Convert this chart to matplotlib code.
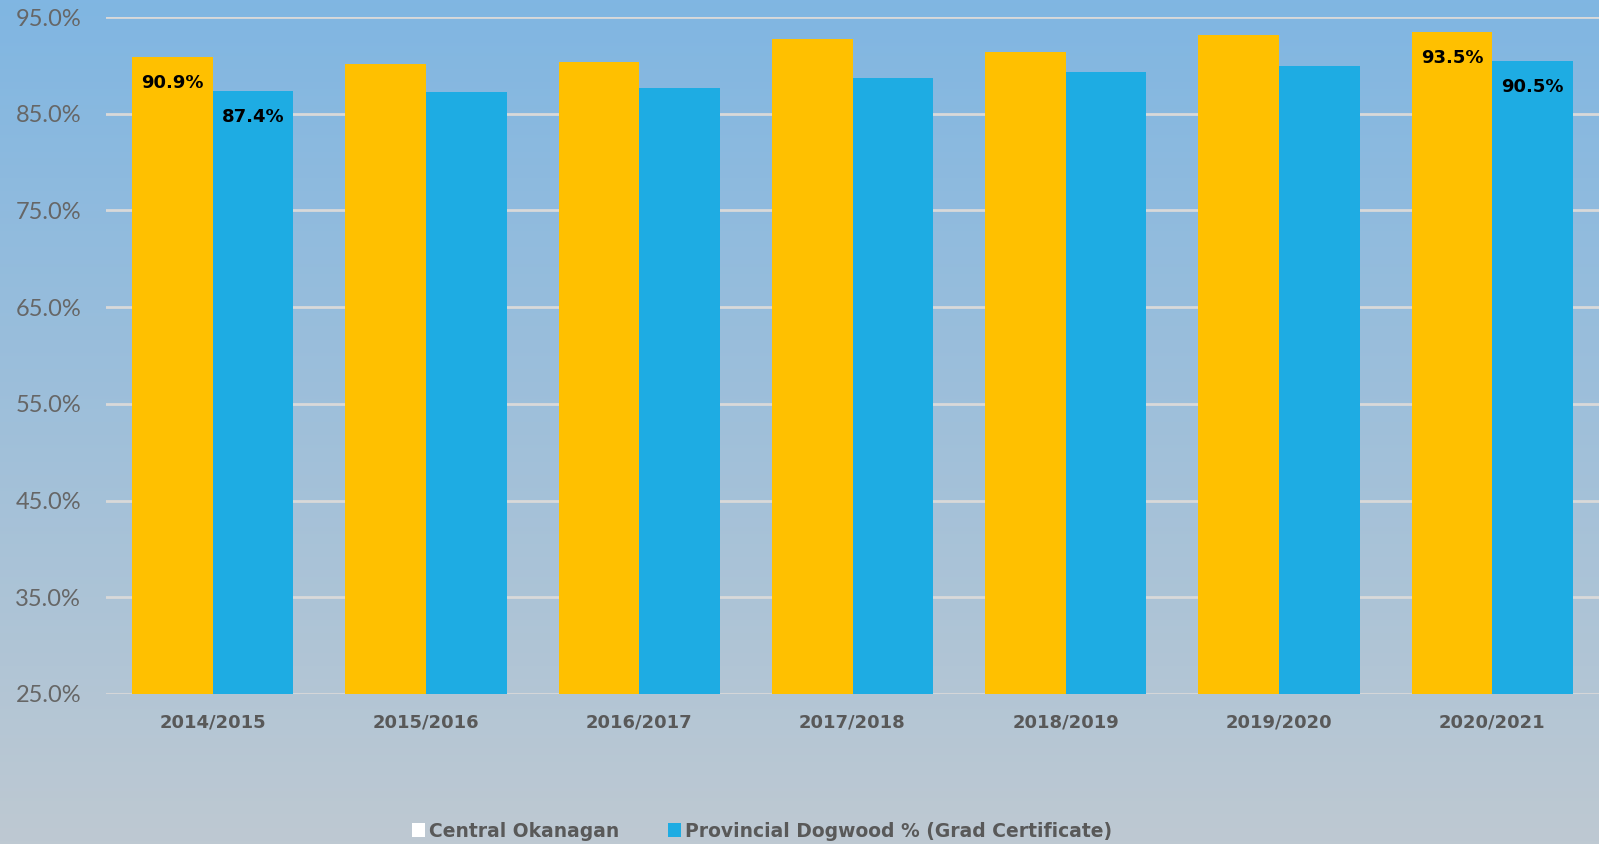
import numpy as np
import matplotlib
matplotlib.use("Agg")
import matplotlib.pyplot as plt
from matplotlib.patches import Patch

years = ['2014/2015', '2015/2016', '2016/2017', '2017/2018', '2018/2019', '2019/2020', '2020/2021']
central = [90.9, 90.1, 90.3, 92.7, 91.4, 93.1, 93.5]
provincial = [87.4, 87.2, 87.7, 88.7, 89.3, 89.9, 90.5]
yticks = [25, 35, 45, 55, 65, 75, 85, 95]

gold = '#FFC000'
blue = '#1EACE3'
grey = '#595959'

fig = plt.figure(figsize=(15.99, 8.44), dpi=100)

# background gradient, blue at the top to grey at the bottom
bg = fig.add_axes([0, 0, 1, 1], zorder=-1)
top = np.array([128, 182, 226]) / 255
bot = np.array([190, 201, 210]) / 255
t = np.linspace(0, 1, 256)[:, None]
grad = top[None, :] * (1 - t) + bot[None, :] * t
bg.imshow(grad[:, None, :], aspect='auto', extent=[0, 1, 0, 1])
bg.axis('off')

ax = fig.add_axes([106/1599, 1 - 694/844, 1 - 106/1599, (694 - 17)/844])
ax.patch.set_alpha(0)

x = np.arange(len(years))
w = 0.378
b1 = ax.bar(x - w/2, central, w, color=gold, zorder=3)
b2 = ax.bar(x + w/2, provincial, w, color=blue, zorder=3)

ax.set_ylim(25, 95)
ax.set_xlim(-0.5, len(years) - 0.5)
ax.set_yticks(yticks)
ax.set_yticklabels([f'{v:.1f}%' for v in yticks], family='Lato', fontsize=17, color='#666666')
ax.set_xticks(x)
ax.set_xticklabels(years, fontsize=13, fontweight='bold', color=grey)
ax.tick_params(axis='y', length=0, pad=18)
ax.tick_params(axis='x', length=0, pad=14)
ax.yaxis.grid(True, color='#D9D9D9', linewidth=2, zorder=0)
for s in ax.spines.values():
    s.set_visible(False)

# labels on the first and last groups only
for i in [0, len(years) - 1]:
    for bars, vals in [(b1, central), (b2, provincial)]:
        r = bars[i]
        ax.annotate(f'{vals[i]:.1f}%', (r.get_x() + r.get_width()/2, r.get_height()),
                    xytext=(0, -19), textcoords='offset points', ha='center', va='center',
                    fontsize=13, fontweight='bold', color='black', zorder=4)

handles = [Patch(facecolor='white', label='Central Okanagan'),
           Patch(facecolor=blue, label='Provincial Dogwood % (Grad Certificate)')]
leg = fig.legend(handles=handles, loc='center', bbox_to_anchor=(0.4766, 0.0154), ncol=2,
                 frameon=False, handlelength=0.7, handleheight=0.7, handletextpad=0.2,
                 columnspacing=2.6, prop={'size': 13.5, 'weight': 'bold'})
for txt in leg.get_texts():
    txt.set_color(grey)

fig.savefig('out.png', dpi=100)
